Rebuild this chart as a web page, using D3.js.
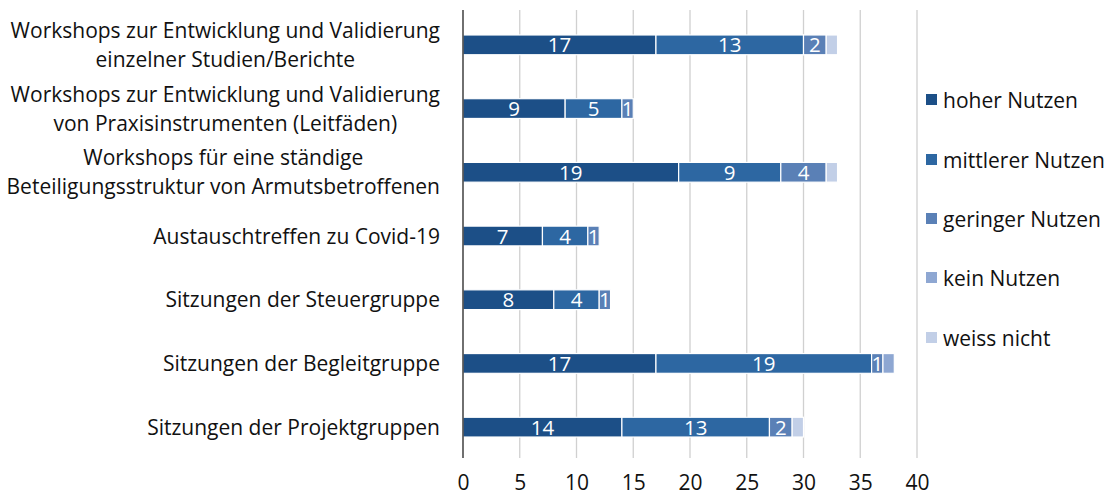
<!DOCTYPE html>
<html><head><meta charset="utf-8">
<script src="https://cdn.jsdelivr.net/npm/d3@7"></script>
<style>body{margin:0;background:#fff}svg{display:block}text{font-family:"Open Sans",sans-serif}</style>
</head><body><svg id="c" width="1106" height="497"></svg>
<script>
const categories = [
  ["Workshops zur Entwicklung und Validierung","einzelner Studien/Berichte"],
  ["Workshops zur Entwicklung und Validierung","von Praxisinstrumenten (Leitfäden)"],
  ["Workshops für eine ständige","Beteiligungsstruktur von Armutsbetroffenen"],
  ["Austauschtreffen zu Covid-19"],
  ["Sitzungen der Steuergruppe"],
  ["Sitzungen der Begleitgruppe"],
  ["Sitzungen der Projektgruppen"]
];
const seriesNames = ["hoher Nutzen","mittlerer Nutzen","geringer Nutzen","kein Nutzen","weiss nicht"];
const hoher    = [17, 9, 19, 7, 8, 17, 14];
const mittlerer= [13, 5,  9, 4, 4, 19, 13];
const geringer = [ 2, 1,  4, 1, 1,  1,  2];
const kein     = [ 0, 0,  0, 0, 0,  1,  0];
const weiss    = [ 1, 0,  1, 0, 0,  0,  1];
const xTicks = [0,5,10,15,20,25,30,35,40];
const colors = ["#1c4f87","#2d67a2","#5a80b6","#8ea7d2","#c2cfe7"];

(function(){
const values = [hoher, mittlerer, geringer, kein, weiss];
const svg = d3.select("#c");
const pL = 463, pR = 917, pT = 13, pB = 459;
const FS = 21;
const x = d3.scaleLinear().domain([0,40]).range([pL,pR]);
const y = d3.scaleBand().domain(d3.range(categories.length)).range([pT,pB]).paddingInner(0.69).paddingOuter(0.345);

svg.append("g").selectAll("line").data(xTicks.slice(1)).join("line")
  .attr("x1",d=>x(d)).attr("x2",d=>x(d)).attr("y1",10).attr("y2",458)
  .attr("stroke","#d0d0d0").attr("stroke-width",1.3);

const rows = categories.map((c,i)=>{let acc=0;return values.map((s,k)=>{const v=s[i];const r={i,k,x0:acc,x1:acc+v,v};acc+=v;return r;});});
const segs = rows.flat().filter(d=>d.v>0);
const g = svg.append("g");
g.selectAll("rect").data(segs).join("rect")
  .attr("x",d=>x(d.x0)).attr("width",d=>x(d.x1)-x(d.x0))
  .attr("y",d=>y(d.i)).attr("height",y.bandwidth())
  .attr("fill",d=>colors[d.k]).attr("stroke","#fff").attr("stroke-width",1.2);
g.selectAll("text").data(segs.filter(d=>d.k<3)).join("text")
  .attr("x",d=>(x(d.x0)+x(d.x1))/2).attr("y",d=>y(d.i)+y.bandwidth()/2+7.5)
  .attr("text-anchor","middle").attr("fill","#fff").attr("font-size",20.5)
  .text(d=>d.v);

svg.append("line").attr("x1",x(0)).attr("x2",x(0)).attr("y1",10).attr("y2",458).attr("stroke","#222").attr("stroke-width",1.3);

const xa = d3.axisBottom(x).tickValues(xTicks).tickSize(0).tickPadding(0);
const ax = svg.append("g").attr("transform","translate(0,490)").call(xa);
ax.select(".domain").remove();
ax.selectAll("text").attr("font-size",FS).attr("fill","#111").attr("font-family","'Open Sans',sans-serif").attr("dy","0").attr("y",0);

const lg = svg.append("g");
categories.forEach((lines,i)=>{
  const cy = y(i)+y.bandwidth()/2;
  const lh = 29;
  const t = lg.append("text").attr("font-size",FS).attr("fill","#111").attr("text-anchor","middle");
  lines.forEach((l,j)=>{
    t.append("tspan").attr("x",0).attr("y",cy + (j-(lines.length-1)/2)*lh + 7.5).text(l);
  });
  const w = t.node().getBBox().width;
  t.attr("transform",`translate(${440-w/2},0)`);
});

const legY = [100,160,219,278,338];
const leg = svg.append("g").selectAll("g").data(seriesNames).join("g")
  .attr("transform",(d,i)=>`translate(926,${legY[i]})`);
leg.append("rect").attr("x",0).attr("y",-6).attr("width",11).attr("height",11).attr("fill",(d,i)=>colors[i]);
leg.append("text").attr("x",17).attr("y",7.5).attr("font-size",FS).attr("fill","#111").text(d=>d);
})();
</script></body></html>
